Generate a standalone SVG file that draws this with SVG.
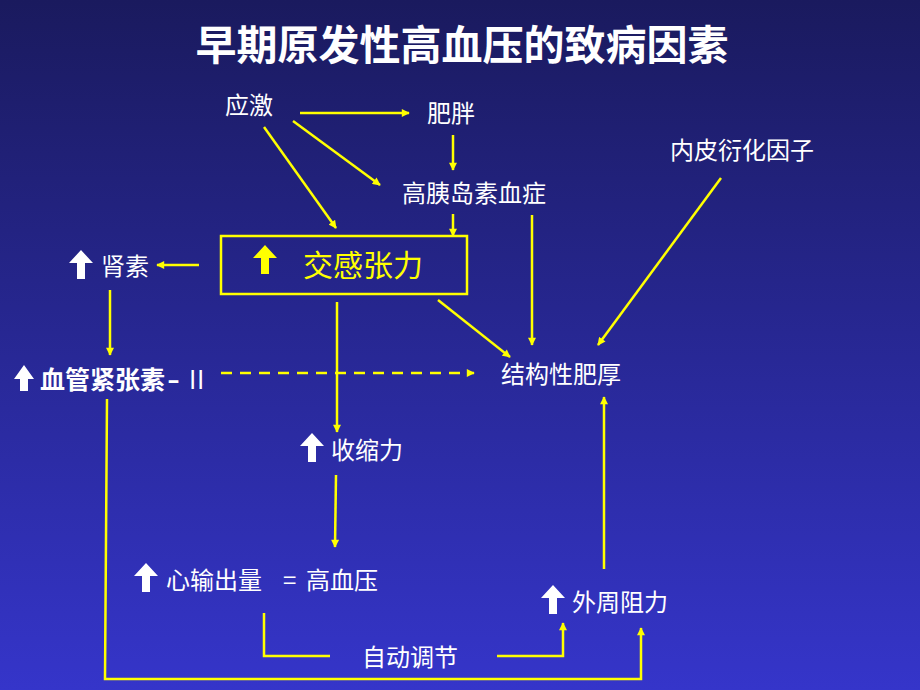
<svg xmlns="http://www.w3.org/2000/svg" xmlns:xlink="http://www.w3.org/1999/xlink" width="920" height="690" viewBox="0 0 920 690">
<defs>
<linearGradient id="bg" x1="0" y1="0" x2="0" y2="1">
<stop offset="0" stop-color="#1a1a5e"/>
<stop offset="1" stop-color="#3535ca"/>
</linearGradient>
<marker id="ah" viewBox="0 0 10 10" refX="9" refY="5" markerWidth="9" markerHeight="8" markerUnits="userSpaceOnUse" orient="auto">
<path d="M0,0 L10,5 L0,10 z" fill="#ffff00"/>
</marker>
<path id="up" d="M12,0 L24,13 L16,13 L16,29 L8,29 L8,13 L0,13 z"/>
<path id="up2" d="M10,0 L20,14 L14,14 L14,26 L6,26 L6,14 L0,14 z"/>
</defs>
<style>
.t{font-family:"Noto Sans CJK SC","Liberation Sans",sans-serif;fill:#ffffff;font-size:24px}
.c{stroke:#ffff00;stroke-width:2.5;fill:none}
.a{marker-end:url(#ah)}
.d{stroke-dasharray:11 8}
</style>
<rect width="920" height="690" fill="url(#bg)"/>
<text x="462" y="60" text-anchor="middle" class="t" style="font-size:41px;font-weight:700">早期原发性高血压的致病因素</text>

<g id="connectors">
<line class="c a" x1="300" y1="113" x2="409" y2="113"/>
<line class="c a" x1="293" y1="121" x2="380" y2="185"/>
<line class="c a" x1="264" y1="127" x2="336" y2="228"/>
<line class="c a" x1="453" y1="135" x2="453" y2="170"/>
<line class="c a" x1="453" y1="214" x2="453" y2="236"/>
<line class="c a" x1="199" y1="265" x2="157" y2="265"/>
<line class="c a" x1="110" y1="290" x2="110" y2="355"/>
<line class="c a d" x1="221" y1="373" x2="474" y2="373"/>
<line class="c a" x1="438" y1="300" x2="510" y2="357"/>
<line class="c a" x1="532" y1="215" x2="532" y2="345"/>
<line class="c a" x1="721" y1="178" x2="598" y2="345"/>
<line class="c a" x1="604" y1="569" x2="604" y2="397"/>
<line class="c a" x1="337" y1="302" x2="337" y2="432"/>
<line class="c a" x1="336" y1="475" x2="335" y2="547"/>
<polyline class="c" points="264,613 264,656 330,656"/>
<polyline class="c a" points="497,656 563,656 563,623"/>
<polyline class="c a" points="107,399 105,679 641,679 641,628"/>
</g>

<g id="stress"><text x="249" y="114" text-anchor="middle" class="t">应激</text></g>
<g id="obesity"><text x="451" y="122" text-anchor="middle" class="t">肥胖</text></g>
<g id="endothelial"><text x="742" y="159" text-anchor="middle" class="t">内皮衍化因子</text></g>
<g id="hyperinsulinemia"><text x="474" y="202" text-anchor="middle" class="t">高胰岛素血症</text></g>
<g id="sympathetic">
<rect x="221" y="236" width="246" height="58" fill="none" stroke="#ffff00" stroke-width="2.5"/>
<use xlink:href="#up" x="253" y="245" fill="#ffff00"/>
<text x="303" y="276" class="t" style="font-size:30px;fill:#ffff00">交感张力</text>
</g>
<g id="renin">
<use xlink:href="#up" x="69" y="250" fill="#ffffff"/>
<text x="101" y="275" class="t">肾素</text>
</g>
<g id="angiotensin">
<use xlink:href="#up2" x="14" y="365" fill="#ffffff"/>
<text y="389" class="t" style="font-size:25px;font-weight:700"><tspan x="40">血管紧张素</tspan><tspan x="167" textLength="13" lengthAdjust="spacingAndGlyphs">-</tspan><tspan x="189" style="font-weight:400">I</tspan><tspan x="197" style="font-weight:400">I</tspan></text>
</g>
<g id="hypertrophy"><text x="561" y="383" text-anchor="middle" class="t">结构性肥厚</text></g>
<g id="contractility">
<use xlink:href="#up" x="300" y="433" fill="#ffffff"/>
<text x="331" y="459" class="t">收缩力</text>
</g>
<g id="cardiac-output">
<use xlink:href="#up" x="134" y="563" fill="#ffffff"/>
<text y="589" class="t"><tspan x="166">心输出量</tspan><tspan x="283">=</tspan><tspan x="306">高血压</tspan></text>
</g>
<g id="resistance">
<use xlink:href="#up" x="541" y="585" fill="#ffffff"/>
<text x="572" y="611" class="t">外周阻力</text>
</g>
<g id="autoregulation"><text x="410" y="666" text-anchor="middle" class="t">自动调节</text></g>
</svg>
